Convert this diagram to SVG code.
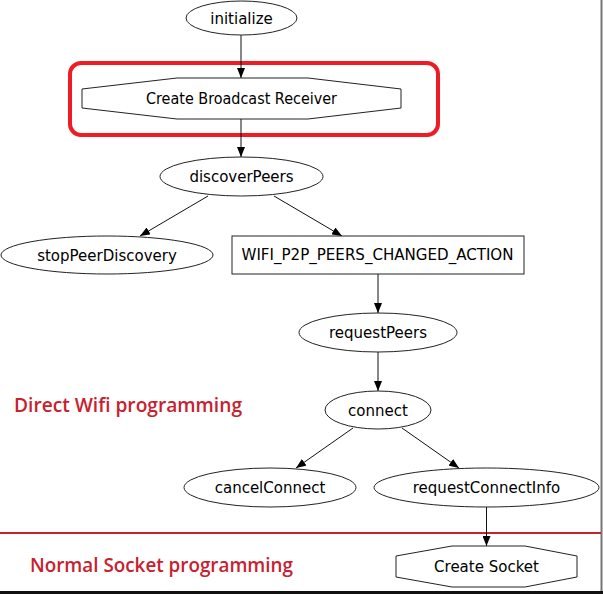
<svg xmlns="http://www.w3.org/2000/svg" width="603" height="594" viewBox="0 0 603 594">
<defs>
<marker id="ah" markerUnits="userSpaceOnUse" markerWidth="10" markerHeight="8" refX="10" refY="4" orient="auto">
<path d="M0,0 L10,4 L0,8 Z" fill="#000"/>
</marker>
<style>
.n{fill:#fff;stroke:#222;stroke-width:1}
.t{font-family:"DejaVu Sans",sans-serif;font-size:15px;fill:#000;text-anchor:middle}
.e{fill:none;stroke:#111;stroke-width:1;marker-end:url(#ah)}
.r{font-family:"Open Sans","Noto Sans",sans-serif;font-size:20px;font-weight:600;fill:#c8202e}
</style>
</defs>
<rect width="603" height="594" fill="#fff"/>
<rect x="600.5" y="0" width="2" height="591" fill="#777"/>
<rect x="0" y="591" width="603" height="3" fill="#111"/>
<line x1="0" y1="533" x2="601" y2="533" stroke="#c8202e" stroke-width="2"/>
<rect x="70" y="63" width="368" height="72" rx="11" fill="none" stroke="#ee1c24" stroke-width="4"/>

<g id="edges">
<line class="e" x1="241" y1="35" x2="241" y2="78"/>
<line class="e" x1="241" y1="119" x2="241" y2="157"/>
<line class="e" x1="208" y1="196" x2="140" y2="236"/>
<line class="e" x1="274" y1="196" x2="342" y2="236"/>
<line class="e" x1="378" y1="274" x2="378" y2="313"/>
<line class="e" x1="378" y1="352" x2="378" y2="391"/>
<line class="e" x1="353" y1="428" x2="296" y2="468"/>
<line class="e" x1="402" y1="428" x2="459" y2="468"/>
<line class="e" x1="486.5" y1="507" x2="486.5" y2="546"/>
</g>

<g id="initialize"><ellipse class="n" cx="241.5" cy="18" rx="55.5" ry="17"/><text class="t" x="241.5" y="23.5">initialize</text></g>
<g id="createBroadcastReceiver"><polygon class="n" points="177,78 308,78 401,89 401,108 308,119 177,119 82,108 82,89"/><text class="t" x="241.5" y="104" textLength="191" lengthAdjust="spacingAndGlyphs">Create Broadcast Receiver</text></g>
<g id="discoverPeers"><ellipse class="n" cx="241.5" cy="176.5" rx="81.5" ry="19.5"/><text class="t" x="241.5" y="182">discoverPeers</text></g>
<g id="stopPeerDiscovery"><ellipse class="n" cx="107" cy="255" rx="106" ry="19"/><text class="t" x="107" y="260.5">stopPeerDiscovery</text></g>
<g id="wifiP2pPeersChangedAction"><rect class="n" x="232" y="236" width="292" height="38"/><text class="t" x="377.5" y="259.5" textLength="272" lengthAdjust="spacingAndGlyphs">WIFI_P2P_PEERS_CHANGED_ACTION</text></g>
<g id="requestPeers"><ellipse class="n" cx="378" cy="332.5" rx="79" ry="19.5"/><text class="t" x="378" y="338">requestPeers</text></g>
<g id="connect"><ellipse class="n" cx="378" cy="410" rx="53" ry="19"/><text class="t" x="378" y="415.5">connect</text></g>
<g id="cancelConnect"><ellipse class="n" cx="270" cy="487.5" rx="86" ry="19.5"/><text class="t" x="270" y="493">cancelConnect</text></g>
<g id="requestConnectInfo"><ellipse class="n" cx="486.5" cy="487.5" rx="112.5" ry="19.5"/><text class="t" x="486.5" y="493">requestConnectInfo</text></g>
<g id="createSocket"><polygon class="n" points="452,546 525,546 577,556 577,577 525,587 452,587 396,577 396,556"/><text class="t" x="486.5" y="571.5">Create Socket</text></g>

<text class="r" x="14" y="412" textLength="228" lengthAdjust="spacingAndGlyphs">Direct Wifi programming</text>
<text class="r" x="30" y="572" textLength="263" lengthAdjust="spacingAndGlyphs">Normal Socket programming</text>
</svg>
